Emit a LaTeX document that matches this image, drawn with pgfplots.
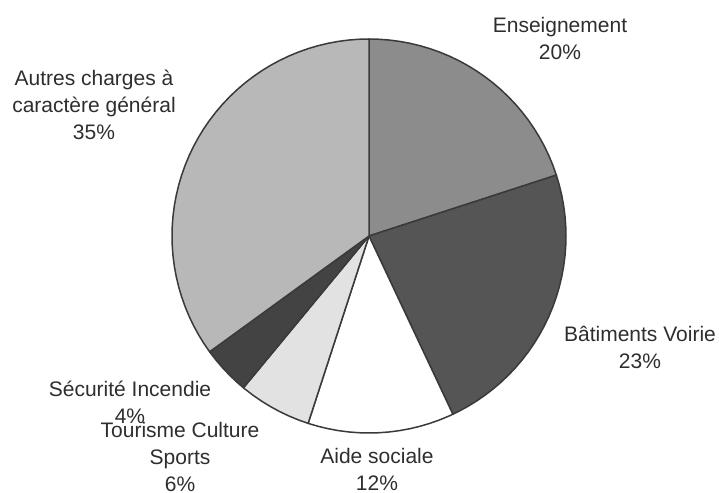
\documentclass[border=0pt]{standalone}
\usepackage{pgfplots}
\pgfplotsset{compat=1.18}
\usepgfplotslibrary{polar}
\usepackage{fontspec}
\setmainfont{Liberation Sans}
\definecolor{cEns}{HTML}{8C8C8C}
\definecolor{cBat}{HTML}{555555}
\definecolor{cAide}{HTML}{FFFFFF}
\definecolor{cTour}{HTML}{E2E2E2}
\definecolor{cSec}{HTML}{434343}
\definecolor{cAut}{HTML}{B8B8B8}
\definecolor{cTxt}{HTML}{2E2E2E}
\definecolor{cLine}{HTML}{3A3A3A}
\tikzset{lbl/.style={font=\fontsize{10.5}{13.5}\selectfont, text=cTxt, align=center, inner sep=0pt}}
\begin{document}
\begin{tikzpicture}
\begin{axis}[
  width=359.5pt, height=246.5pt, scale only axis,
  hide axis, clip=false,
  xmin=-369, xmax=350, ymin=-257, ymax=236,
  every axis plot/.append style={data cs=polar, draw=cLine, line width=0.75pt, line join=round},
]
% Enseignement 20%
\addplot[fill=cEns] coordinates {(0,0) (90,197) (87,197) (84,197) (81,197) (78,197) (75,197) (72,197) (69,197) (66,197) (63,197) (60,197) (57,197) (54,197) (51,197) (48,197) (45,197) (42,197) (39,197) (36,197) (33,197) (30,197) (27,197) (24,197) (21,197) (18,197) (0,0)};
% Batiments Voirie 23%
\addplot[fill=cBat] coordinates {(0,0) (18,197) (15,197) (12,197) (9,197) (6,197) (3,197) (0,197) (-3,197) (-6,197) (-9,197) (-12,197) (-15,197) (-18,197) (-21,197) (-24,197) (-27,197) (-30,197) (-33,197) (-36,197) (-39,197) (-42,197) (-45,197) (-48,197) (-51,197) (-54,197) (-57,197) (-60,197) (-63,197) (-64.8,197) (0,0)};
% Aide sociale 12%
\addplot[fill=cAide] coordinates {(0,0) (-64.8,197) (-66,197) (-69,197) (-72,197) (-75,197) (-78,197) (-81,197) (-84,197) (-87,197) (-90,197) (-93,197) (-96,197) (-99,197) (-102,197) (-105,197) (-108,197) (0,0)};
% Tourisme Culture Sports 6%
\addplot[fill=cTour] coordinates {(0,0) (-108,197) (-111,197) (-114,197) (-117,197) (-120,197) (-123,197) (-126,197) (-129,197) (-129.6,197) (0,0)};
% Securite Incendie 4%
\addplot[fill=cSec] coordinates {(0,0) (-129.6,197) (-132,197) (-135,197) (-138,197) (-141,197) (-144,197) (0,0)};
% Autres 35%
\addplot[fill=cAut] coordinates {(0,0) (-144,197) (-147,197) (-150,197) (-153,197) (-156,197) (-159,197) (-162,197) (-165,197) (-168,197) (-171,197) (-174,197) (-177,197) (-180,197) (-183,197) (-186,197) (-189,197) (-192,197) (-195,197) (-198,197) (-201,197) (-204,197) (-207,197) (-210,197) (-213,197) (-216,197) (-219,197) (-222,197) (-225,197) (-228,197) (-231,197) (-234,197) (-237,197) (-240,197) (-243,197) (-246,197) (-249,197) (-252,197) (-255,197) (-258,197) (-261,197) (-264,197) (-267,197) (-270,197) (0,0)};
\node[lbl] at (axis cs:191,198) {Enseignement\\20\%};
\node[lbl] at (axis cs:271,-111.5) {Bâtiments Voirie\\23\%};
\node[lbl] at (axis cs:8,-233) {Aide sociale\\12\%};
\node[lbl] at (axis cs:-189,-220.5) {Tourisme Culture\\Sports\\6\%};
\node[lbl] at (axis cs:-239,-166.5) {Sécurité Incendie\\4\%};
\node[lbl] at (axis cs:-275,131) {Autres charges à\\caractère général\\35\%};
\end{axis}
\pgfresetboundingbox
\path[use as bounding box] (current axis.south west) rectangle (current axis.north east);
\end{tikzpicture}
\end{document}
